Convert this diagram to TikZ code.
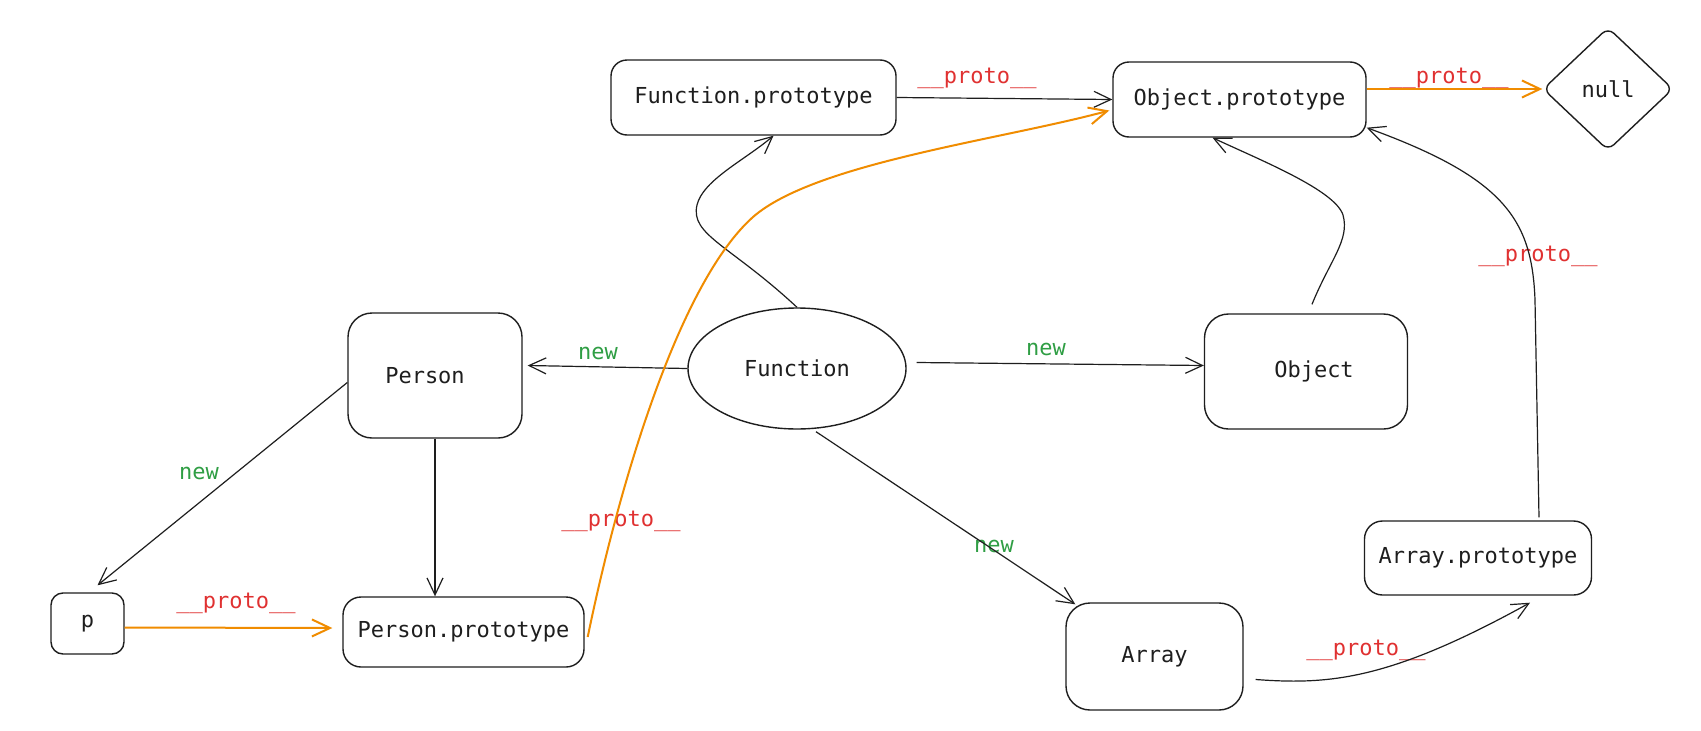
\documentclass[tikz,border=0pt]{standalone}
\usepackage{fontspec}
\usetikzlibrary{arrows.meta,shapes.geometric}
\newfontfamily\codefont{DejaVu Sans Mono}
\definecolor{ink}{HTML}{1E1E1E}
\definecolor{orng}{HTML}{F08C00}
\definecolor{rd}{HTML}{E03131}
\definecolor{grn}{HTML}{2F9E44}
\tikzset{
  box/.style={draw=ink, line width=1.4pt, rounded corners=#1, inner sep=0pt, text=ink,
              font=\codefont\fontsize{22}{26}\selectfont},
  box/.default=16pt,
  conn/.style={draw=ink, line width=1.2pt, -{Straight Barb[length=17pt,width=16pt,line width=1.2pt]}},
  oconn/.style={draw=orng, line width=2pt, -{Straight Barb[length=18pt,width=17pt,line width=2pt]}},
  protolbl/.style={text=rd, font=\codefont\fontsize{22}{26}\selectfont, inner sep=0pt},
  newlbl/.style={text=grn, font=\codefont\fontsize{22}{26}\selectfont, inner sep=0pt},
}
\begin{document}
\begin{tikzpicture}[x=1pt,y=-1pt]
\useasboundingbox[fill=white] (0,0) rectangle (1701,731);

% nodes
\node[box, minimum width=285pt, minimum height=75pt] (fp) at (753.5,97.5) {Function.prototype};
\node[box, minimum width=253pt, minimum height=75pt] (op) at (1239.5,99.5) {Object.prototype};
\node[box=8pt, diamond, minimum width=130pt, minimum height=123pt] (nl) at (1608,89) {null};
\node[box=24pt, minimum width=174pt, minimum height=125pt] (person) at (435,375.5) {\hspace*{-20pt}Person};
\node[draw=ink, line width=1.4pt, ellipse, inner sep=0pt, text=ink,
      font=\codefont\fontsize{22}{26}\selectfont,
      minimum width=218pt, minimum height=121pt] (fn) at (797,368.5) {Function};
\node[box=24pt, minimum width=203pt, minimum height=115pt] (obj) at (1306,371.5) {\hspace*{16pt}Object};
\node[box=12pt, minimum width=73pt, minimum height=61pt] (p) at (87.5,623.5) {p};
\node[box=18pt, minimum width=241pt, minimum height=70pt] (pp) at (463.5,632) {Person.prototype};
\node[box=24pt, minimum width=177pt, minimum height=107pt] (arr) at (1154.5,656.5) {Array};
\node[box=18pt, minimum width=227pt, minimum height=74pt] (ap) at (1478,558) {Array.prototype};

% labels
\node[protolbl] (l1) at (977,78) {\_\_proto\_\_};
\node[protolbl] (l2) at (1449,78) {\_\_proto\_\_};
\node[protolbl] (l3) at (1538,256) {\_\_proto\_\_};
\node[protolbl] (l4) at (621,521) {\_\_proto\_\_};
\node[protolbl] (l5) at (236,603) {\_\_proto\_\_};
\node[protolbl] (l6) at (1366,650) {\_\_proto\_\_};
\node[newlbl] (n1) at (598,353) {new};
\node[newlbl] (n2) at (199,473) {new};
\node[newlbl] (n3) at (1046,349) {new};
\node[newlbl] (n4) at (994,546) {new};

% connectors
\draw[conn] (fp.east) -- (op.west);
\draw[oconn] (op.east |- nl.west) -- (nl.west);
\draw[conn] (fn.north) .. controls (730,245) and (690,235) .. (697,205)
            .. controls (703,180) and (745,160) .. ([xshift=20pt]fp.south);
\draw[conn] ([xshift=6pt,yshift=9pt]obj.north) .. controls (1330,260) and (1350,240) .. (1343,215)
            .. controls (1335,190) and (1260,160) .. ([xshift=-27pt]op.south);
\draw[conn] ([xshift=61pt,yshift=3pt]ap.north) -- (1535,300)
            .. controls (1532,220) and (1505,178) .. ([yshift=10pt]op.south east);
\draw[conn] (fn.west) -- ([xshift=5pt,yshift=10pt]person.east);
\draw[conn] ([xshift=10pt,yshift=6pt]fn.east) -- ([yshift=6pt]obj.west);
\draw[conn] ([yshift=-7pt]person.west) -- ([xshift=10pt,yshift=7pt]p.north);
\draw[conn] (person.south) -- (person.south |- pp.north);
\draw[oconn] ([yshift=-4pt]p.east) -- ([xshift=-10pt,yshift=4pt]pp.west);
\draw[oconn] ([xshift=3pt,yshift=-5pt]pp.east) .. controls (620,480) and (680,282) .. (753,217)
            .. controls (815,163) and (1000,140) .. ([xshift=-3pt,yshift=-11pt]op.west);
\draw[conn] ([xshift=19pt,yshift=-2pt]fn.south) -- ([xshift=10pt,yshift=-2pt]arr.north west);
\draw[conn] ([xshift=12pt,yshift=-23pt]arr.east) .. controls (1330,685) and (1390,680)
            .. ([xshift=52pt,yshift=-7pt]ap.south);
\end{tikzpicture}
\end{document}
